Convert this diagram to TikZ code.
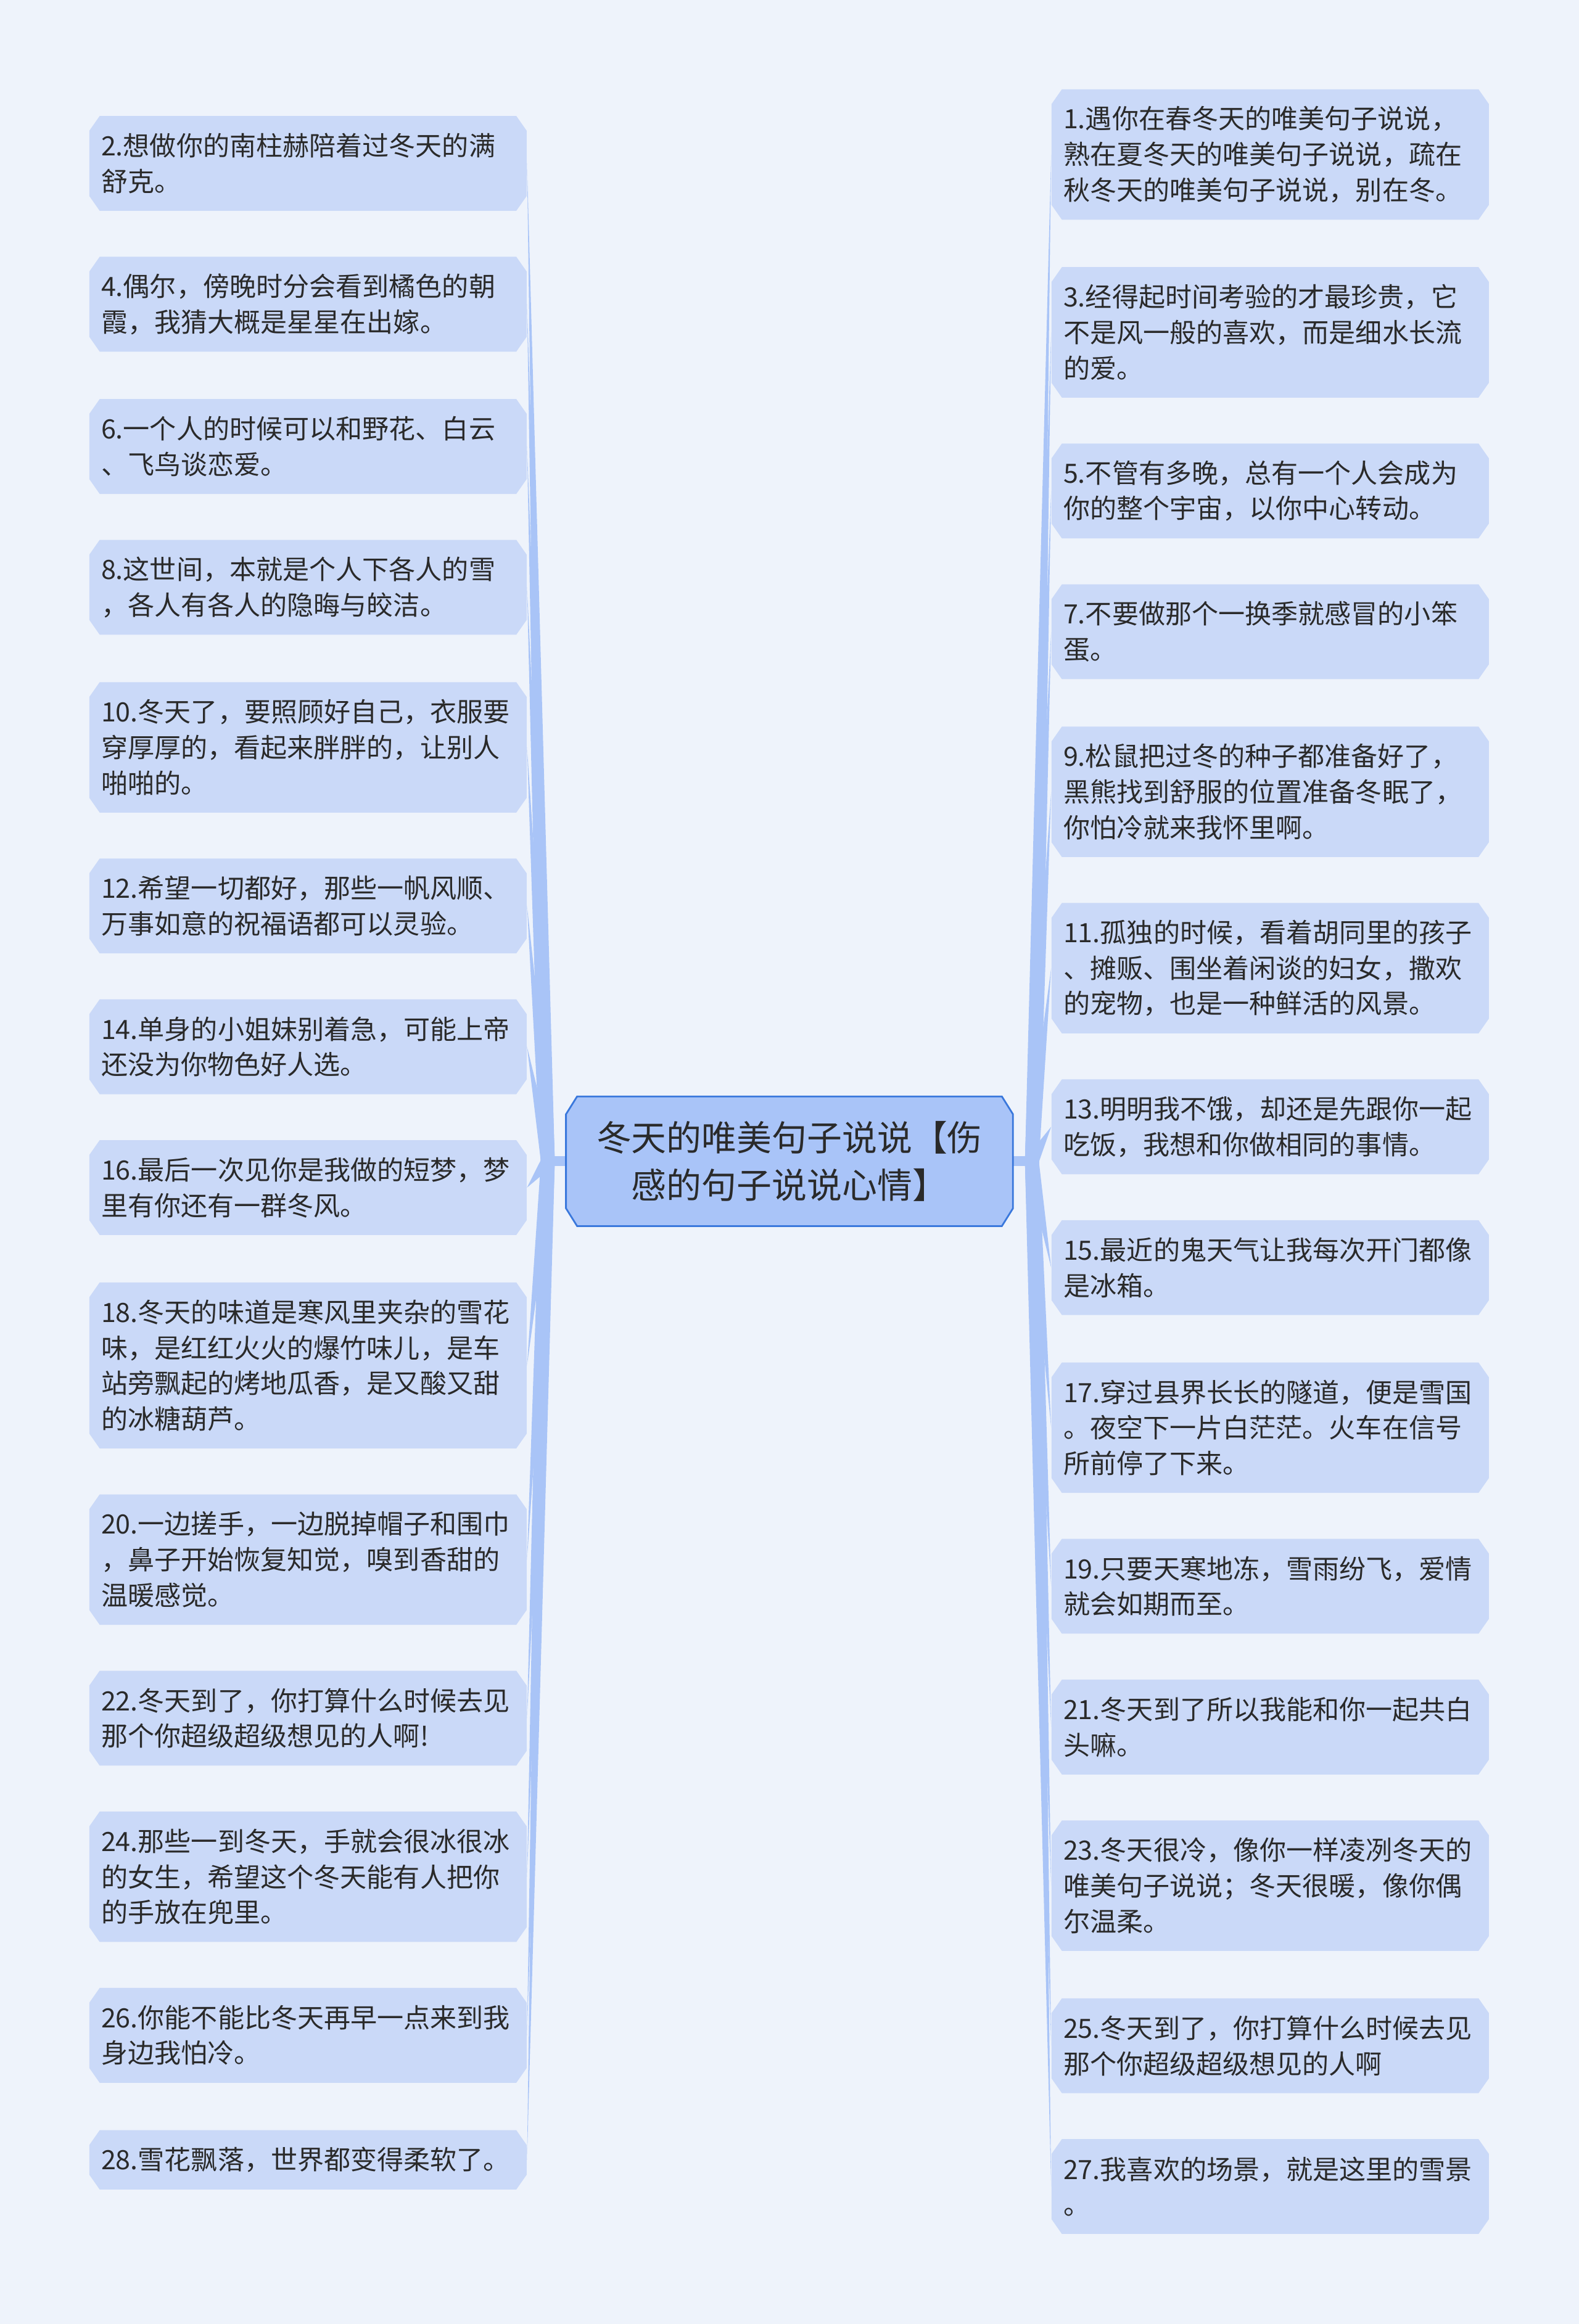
\documentclass[tikz,border=0pt]{standalone}
\usepackage{fontspec}
\usepackage{tikz}
\usetikzlibrary{calc}
\newfontfamily\cjk{Noto Sans CJK SC}
\definecolor{Canvas}{HTML}{EEF3FB}
\definecolor{Leaf}{HTML}{CAD9F8}
\definecolor{Topic}{HTML}{A9C4F8}
\definecolor{Edge}{HTML}{3A78DC}
\definecolor{Branch}{HTML}{A9C4F7}
\definecolor{Ink}{HTML}{2A2A2A}
% outline with cut corners round a box #1
\newcommand\octpath[3]{($(#1.north west)+(#2,0)$) -- ($(#1.north east)+(-#2,0)$) -- ($(#1.north east)+(0,#3)$) -- ($(#1.south east)+(0,-#3)$) -- ($(#1.south east)+(-#2,0)$) -- ($(#1.south west)+(#2,0)$) -- ($(#1.south west)+(0,-#3)$) -- ($(#1.north west)+(0,#3)$) -- cycle}

\begin{document}
\begin{tikzpicture}[x=0.03cm,y=-0.03cm,
  leaf/.style={text=Ink,font=\cjk\fontsize{15.3}{20.5}\selectfont,align=left,
    text width=8.37cm,inner xsep=0.24cm,inner ysep=0pt,
    minimum height=0.48cm+#1*0.72cm,anchor=north west,
    path picture={\fill[Leaf] \octpath{path picture bounding box}{7}{10};}},
  topic/.style={text=Ink,font=\cjk\fontsize{20.2}{27.2}\selectfont,align=center,
    minimum width=9.03cm,minimum height=2.61cm,inner sep=0pt,
    path picture={\fill[Topic] \octpath{path picture bounding box}{7.5}{12};}},
  branch/.style={fill=Branch},
  stub/.style={draw=Branch,line width=0.2cm}]
\useasboundingbox (0,0) rectangle (1065,1568);
\fill[Canvas] (0,0) rectangle (1065,1568);

\coordinate (jl) at (369.5,783.5);
\coordinate (jr) at (696,783.5);
\draw[stub] (jl) -- (382,783.5);
\draw[stub] (683,783.5) -- (jr);

\node[topic] (topic) at (532.5,783.5) {冬天的唯美句子说说【伤\\感的句子说说心情】};
\draw[Edge,line width=1pt] \octpath{topic}{7.5}{12};

% left side
\foreach \id/\y/\n/\txt in {
  l2/78/2/{2.想做你的南柱赫陪着过冬天的满\\舒克。},
  l4/173/2/{4.偶尔，傍晚时分会看到橘色的朝\\霞，我猜大概是星星在出嫁。},
  l6/269/2/{6.一个人的时候可以和野花、白云\\、飞鸟谈恋爱。},
  l8/364/2/{8.这世间，本就是个人下各人的雪\\，各人有各人的隐晦与皎洁。},
  l10/460/3/{10.冬天了，要照顾好自己，衣服要\\穿厚厚的，看起来胖胖的，让别人\\啪啪的。},
  l12/579/2/{12.希望一切都好，那些一帆风顺、\\万事如意的祝福语都可以灵验。},
  l14/674/2/{14.单身的小姐妹别着急，可能上帝\\还没为你物色好人选。},
  l16/769/2/{16.最后一次见你是我做的短梦，梦\\里有你还有一群冬风。},
  l18/865/4/{18.冬天的味道是寒风里夹杂的雪花\\味，是红红火火的爆竹味儿，是车\\站旁飘起的烤地瓜香，是又酸又甜\\的冰糖葫芦。},
  l20/1008/3/{20.一边搓手，一边脱掉帽子和围巾\\，鼻子开始恢复知觉，嗅到香甜的\\温暖感觉。},
  l22/1127/2/{22.冬天到了，你打算什么时候去见\\那个你超级超级想见的人啊!},
  l24/1222/3/{24.那些一到冬天，手就会很冰很冰\\的女生，希望这个冬天能有人把你\\的手放在兜里。},
  l26/1341/2/{26.你能不能比冬天再早一点来到我\\身边我怕冷。},
  l28/1437/1/{28.雪花飘落，世界都变得柔软了。}}{
  \node[leaf=\n] (\id) at (60,\y) {\txt};
  \fill[branch] ($(jl)!4pt!90:(\id.east)$) -- (\id.east) -- ($(jl)!4pt!-90:(\id.east)$) -- cycle;
}

% right side
\foreach \id/\y/\n/\txt in {
  r1/60/3/{1.遇你在春冬天的唯美句子说说，\\熟在夏冬天的唯美句子说说，疏在\\秋冬天的唯美句子说说，别在冬。},
  r3/180/3/{3.经得起时间考验的才最珍贵，它\\不是风一般的喜欢，而是细水长流\\的爱。},
  r5/299/2/{5.不管有多晚，总有一个人会成为\\你的整个宇宙，以你中心转动。},
  r7/394/2/{7.不要做那个一换季就感冒的小笨\\蛋。},
  r9/490/3/{9.松鼠把过冬的种子都准备好了，\\黑熊找到舒服的位置准备冬眠了，\\你怕冷就来我怀里啊。},
  r11/609/3/{11.孤独的时候，看着胡同里的孩子\\、摊贩、围坐着闲谈的妇女，撒欢\\的宠物，也是一种鲜活的风景。},
  r13/728/2/{13.明明我不饿，却还是先跟你一起\\吃饭，我想和你做相同的事情。},
  r15/823/2/{15.最近的鬼天气让我每次开门都像\\是冰箱。},
  r17/919/3/{17.穿过县界长长的隧道，便是雪国\\。夜空下一片白茫茫。火车在信号\\所前停了下来。},
  r19/1038/2/{19.只要天寒地冻，雪雨纷飞，爱情\\就会如期而至。},
  r21/1133/2/{21.冬天到了所以我能和你一起共白\\头嘛。},
  r23/1228/3/{23.冬天很冷，像你一样凌冽冬天的\\唯美句子说说；冬天很暖，像你偶\\尔温柔。},
  r25/1348/2/{25.冬天到了，你打算什么时候去见\\那个你超级超级想见的人啊},
  r27/1443/2/{27.我喜欢的场景，就是这里的雪景\\。}}{
  \node[leaf=\n] (\id) at (709,\y) {\txt};
  \fill[branch] ($(jr)!4pt!90:(\id.west)$) -- (\id.west) -- ($(jr)!4pt!-90:(\id.west)$) -- cycle;
}
\end{tikzpicture}
\end{document}
